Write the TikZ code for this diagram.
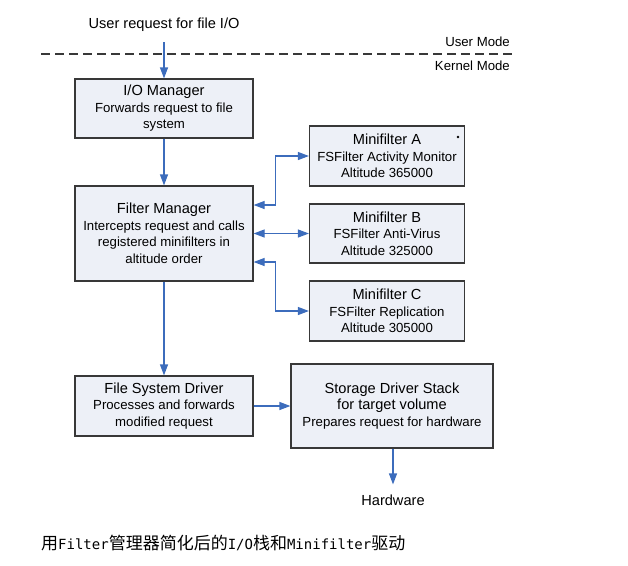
\documentclass[tikz,border=0pt]{standalone}
\usepackage{fontspec}
\setmainfont{Liberation Sans}
\newfontfamily\cjkfont{Noto Sans CJK SC}
\newfontfamily\capmono{DejaVu Sans Mono}
\usetikzlibrary{arrows.meta, positioning}
\usepackage{xcolor}
\definecolor{boxfill}{HTML}{EDF0F7}
\definecolor{boxline}{HTML}{383838}
\definecolor{flowblue}{HTML}{3C6CBC}
\newcommand{\boxtitle}[1]{{\fontsize{14.6}{16.5}\selectfont #1}}
\newcommand{\cjk}[1]{{\cjkfont\fontsize{17}{17}\selectfont #1}}
\newcommand{\lat}[1]{{\capmono\fontsize{14}{17}\selectfont #1}}

\begin{document}
\begin{tikzpicture}[x=1pt, y=-1pt,
		stage/.style={draw=boxline, fill=boxfill, line width=1.2pt, inner sep=0pt, align=center,
			font=\fontsize{13.2}{16.5}\selectfont},
		flow/.style={draw=flowblue, line width=1.2pt, -{Triangle[length=11pt,width=8pt]}},
		twoway/.style={draw=flowblue, line width=1.2pt, {Triangle[length=11pt,width=8pt]}-{Triangle[length=11pt,width=8pt]}},
		plain/.style={inner sep=0pt, font=\fontsize{13.2}{16.5}\selectfont}]
		\useasboundingbox (0,0) rectangle (628,565);
		
		\draw (164,25) node[plain, font=\fontsize{14.6}{16.5}\selectfont] (user) {User request for file I/O}
		(510,42) node[plain, anchor=east] (umode) {User Mode}
		(510,66) node[plain, anchor=east] (kmode) {Kernel Mode}
		(164,108.5) node[stage, minimum width=178pt, minimum height=59pt] (iom) {\boxtitle{I/O Manager}\\Forwards request to file\\system}
		(164,233.5) node[stage, minimum width=178pt, minimum height=95pt] (fm) {\boxtitle{Filter Manager}\\Intercepts request and calls\\registered minifilters in\\altitude order}
		(387,156) node[stage, minimum width=155pt, minimum height=60pt] (mfa) {\boxtitle{Minifilter A}\\FSFilter Activity Monitor\\Altitude 365000}
		(387,233.5) node[stage, minimum width=155pt, minimum height=59pt] (mfb) {\boxtitle{Minifilter B}\\FSFilter Anti-Virus\\Altitude 325000}
		(387,311) node[stage, minimum width=155pt, minimum height=60pt] (mfc) {\boxtitle{Minifilter C}\\FSFilter Replication\\Altitude 305000}
		(164,406) node[stage, minimum width=178pt, minimum height=60pt] (fsd) {\boxtitle{File System Driver}\\Processes and forwards\\modified request}
		(392,406) node[stage, minimum width=202pt, minimum height=84pt] (sds) {\boxtitle{Storage Driver Stack}\\\boxtitle{for target volume}\\Prepares request for hardware}
		(393,500) node[plain, font=\fontsize{14.6}{16.5}\selectfont] (hw) {Hardware}
		(41,543) node[plain, anchor=west] (caption) {\cjk{用}\lat{Filter}\cjk{管理器简化后的}\lat{I/O}\cjk{栈和}\lat{Minifilter}\cjk{驱动}};
		
		% mode boundary
		\draw[boxline, line width=1.2pt, dash pattern=on 9pt off 5pt] (41,54) -- (512,54);
		\fill (458,137) circle (1.4pt);
		
		\draw[flow, shorten <=10pt] (user) -- (iom);
		\draw[flow] (iom) -- (fm);
		\draw[twoway] ([yshift=28.5pt]fm.east) -- ++(22,0) |- (mfa.west);
		\draw[twoway] (fm.east) -- (mfb.west);
		\draw[twoway] ([yshift=-28.5pt]fm.east) -- ++(22,0) |- (mfc.west);
		\draw[flow] (fm) -- (fsd);
		\draw[flow] (fsd) -- (sds);
		\draw[flow, shorten >=10pt] (sds.south -| hw) -- (hw);
	\end{tikzpicture}
\end{document}
